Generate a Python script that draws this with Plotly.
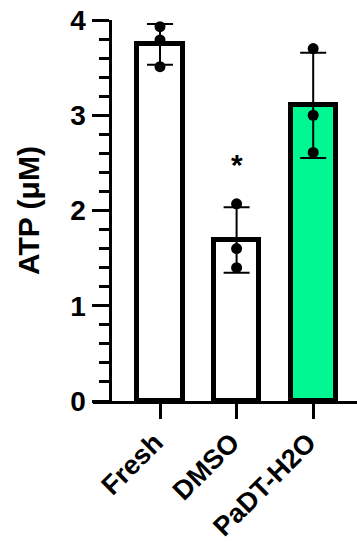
import numpy as np
import plotly.graph_objects as go

# ATP measurements per group (three replicates each)
groups = ["Fresh", "DMSO", "PaDT-H2O"]
fresh = [3.93, 3.79, 3.51]
dmso = [2.07, 1.60, 1.40]
padt = [3.70, 3.00, 2.61]
replicates = [fresh, dmso, padt]
bar_colors = ["#FFFFFF", "#FFFFFF", "#00F791"]
y_ticks = [0, 1, 2, 3, 4]

means = [float(np.mean(r)) for r in replicates]
sds = [float(np.std(r, ddof=1)) for r in replicates]

FONT = "Arial, Liberation Sans, sans-serif"

fig = go.Figure()

fig.add_trace(go.Bar(
    x=groups,
    y=means,
    width=0.59,
    marker=dict(color=bar_colors, line=dict(color="black", width=5)),
    error_y=dict(type="data", array=sds, visible=True,
                 color="black", thickness=2, width=13),
    showlegend=False,
))

px_, py_ = [], []
for g, r in zip(groups, replicates):
    px_ += [g] * len(r)
    py_ += r
fig.add_trace(go.Scatter(
    x=px_, y=py_, mode="markers",
    marker=dict(color="black", size=11),
    cliponaxis=False, showlegend=False,
))

# significance mark above DMSO
fig.add_annotation(x="DMSO", y=2.48, text="<b>*</b>", showarrow=False,
                   font=dict(family=FONT, size=30, color="black"),
                   yanchor="middle")

fig.update_layout(
    width=357, height=543,
    margin=dict(l=93, r=0, t=20, b=142),
    plot_bgcolor="white", paper_bgcolor="white",
    font=dict(family=FONT, color="black"),
    bargap=0,
)

fig.update_xaxes(
    type="category",
    range=[-0.875, 2.572],
    automargin=False,
    showline=True, linewidth=3, linecolor="black",
    ticks="outside", ticklen=15, tickwidth=3, tickcolor="black",
    tickangle=-45, ticklabelshift=-5, ticklabelstandoff=-3,
    tickfont=dict(family=FONT, size=27, color="black", weight="bold"),
    showgrid=False, zeroline=False,
)

fig.update_yaxes(
    range=[0, 4],
    anchor="free", position=0.0625,
    automargin=False,
    showline=True, linewidth=3, linecolor="black",
    tickvals=y_ticks,
    ticks="outside", ticklen=17, tickwidth=3, tickcolor="black",
    minor=dict(dtick=0.2, ticks="outside", ticklen=10, tickwidth=3,
               tickcolor="black", showgrid=False),
    tickfont=dict(family=FONT, size=28, color="black", weight="bold"),
    title=dict(text="ATP (μM)", standoff=20,
               font=dict(family=FONT, size=30, color="black", weight="bold")),
    showgrid=False, zeroline=False,
)

fig.write_html("out.html")
